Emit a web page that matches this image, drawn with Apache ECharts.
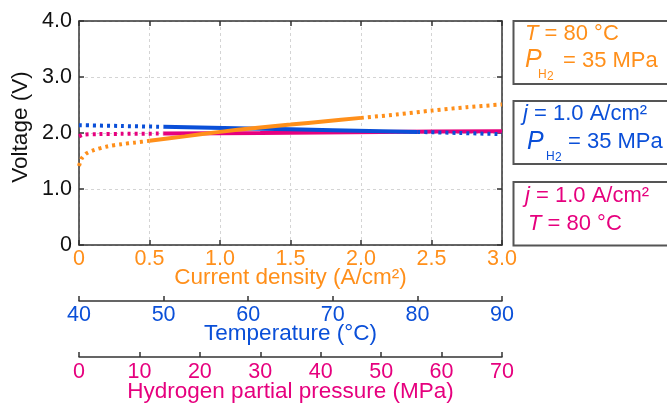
<!DOCTYPE html>
<html>
<head>
<meta charset="utf-8">
<script src="https://cdn.jsdelivr.net/npm/echarts@6/dist/echarts.min.js"></script>
<style>
  html, body { margin: 0; padding: 0; background: #fff; }
  #chart { width: 667px; height: 410px; }
</style>
</head>
<body>
<div id="chart"></div>
<script>
// Cell voltage vs. current density, temperature and hydrogen partial pressure
const ORANGE = '#FF8F1A';
const BLUE = '#0A4FD8';
const PINK = '#E6007E';
const FONT = '"Liberation Sans", Arial, sans-serif';

// Current density sweep (A/cm2) — T = 80 °C, P_H2 = 35 MPa
const jLow = [0, 0.02, 0.05, 0.1, 0.2, 0.3, 0.4, 0.5];
const vjLow = [1.41, 1.55, 1.63, 1.69, 1.76, 1.80, 1.83, 1.86];
const jMid = [0.5, 0.75, 1.0, 1.25, 1.5, 1.75, 2.0];
const vjMid = [1.86, 1.94, 2.02, 2.09, 2.15, 2.21, 2.27];
const jHigh = [2.0, 2.25, 2.5, 2.75, 3.0];
const vjHigh = [2.27, 2.33, 2.40, 2.46, 2.51];

// Temperature sweep (°C) — j = 1.0 A/cm2, P_H2 = 35 MPa
const tLow = [40, 45, 50];
const vtLow = [2.14, 2.125, 2.11];
const tMid = [50, 60, 70, 80];
const vtMid = [2.11, 2.08, 2.05, 2.02];
const tHigh = [80, 85, 90];
const vtHigh = [2.02, 2.00, 1.98];

// Hydrogen partial pressure sweep (MPa) — j = 1.0 A/cm2, T = 80 °C
const pLow = [0, 0.7, 3, 7, 14];
const vpLow = [1.94, 1.97, 1.98, 1.985, 1.99];
const pMid = [14, 30, 50, 70];
const vpMid = [1.99, 2.00, 2.02, 2.03];

// Axis ticks
const jTicks = { min: 0, max: 3, step: 0.5 };
const tTicks = { min: 40, max: 90, step: 10 };
const pTicks = { min: 0, max: 70, step: 10 };
const vTicks = { min: 0, max: 4, step: 1 };

const pairs = (xs, ys) => xs.map((x, i) => [x, ys[i]]);
const fmt1 = v => (v === 0 ? '0' : v.toFixed(1));

const AXIS_LINE = { show: true, onZero: false, lineStyle: { color: '#333', width: 1.5 } };
const TICK_IN = { show: true, inside: true, length: 5, lineStyle: { color: '#333', width: 1.5 } };
const GRID_LINE = { show: true, lineStyle: { color: '#d4d4d4', width: 1, type: [3, 3] } };

function bottomAxis(range, offset, color, name, formatter, split, gap, margin) {
  return {
    type: 'value', position: 'bottom', offset: offset,
    min: range.min, max: range.max, interval: range.step,
    axisLine: AXIS_LINE, axisTick: TICK_IN,
    axisLabel: { color: color, fontSize: 21.5, fontFamily: FONT, margin: margin,
                 formatter: formatter, showMinLabel: true, showMaxLabel: true, hideOverlap: false },
    splitLine: split ? GRID_LINE : { show: false },
    name: name, nameLocation: 'middle', nameGap: gap, nameMoveOverlap: false,
    nameTextStyle: { color: color, fontSize: 22.5, fontFamily: FONT }
  };
}

function lineSeries(axis, data, color, dotted, z) {
  return {
    type: 'line', xAxisIndex: axis, yAxisIndex: 0, data: data,
    showSymbol: false, smooth: 0.3, z: z, animation: false,
    lineStyle: dotted
      ? { color: color, width: 4, type: [3, 4], cap: 'butt' }
      : { color: color, width: 4, cap: 'butt' }
  };
}

function condText(x, y, letter, rest, color) {
  return {
    type: 'text', x: x, y: y,
    style: {
      text: '{i|' + letter + '}{n|' + rest + '}',
      verticalAlign: 'middle',
      rich: {
        i: { fontSize: 22, fontStyle: 'italic', fontFamily: FONT, fill: color },
        n: { fontSize: 22, fontFamily: FONT, fill: color }
      }
    }
  };
}

function pressureText(x, y, color, subX, restX) {
  return [
    { type: 'text', x: x, y: y, style: { text: 'P', fontSize: 25, fontStyle: 'italic', fontFamily: FONT, fill: color, verticalAlign: 'middle' } },
    { type: 'text', x: subX, y: y + 14.5, style: { text: 'H', fontSize: 12, fontFamily: FONT, fill: color, verticalAlign: 'middle' } },
    { type: 'text', x: subX + 9, y: y + 16, style: { text: '2', fontSize: 12, fontFamily: FONT, fill: color, verticalAlign: 'middle' } },
    { type: 'text', x: restX, y: y, style: { text: '= 35 MPa', fontSize: 22, fontFamily: FONT, fill: color, verticalAlign: 'middle' } }
  ];
}

function box(y, h) {
  return { type: 'rect', shape: { x: 513.5, y: y, width: 175, height: h },
           style: { fill: 'none', stroke: '#555', lineWidth: 2 } };
}

const chart = echarts.init(document.getElementById('chart'), null, { renderer: 'canvas' });
chart.setOption({
  backgroundColor: '#fff',
  animation: false,
  grid: { left: 79, right: 165, top: 21, bottom: 165, containLabel: false, outerBoundsMode: 'none' },
  xAxis: [
    bottomAxis(jTicks, 0, ORANGE, 'Current density (A/cm²)', fmt1, true, 21, 3),
    bottomAxis(tTicks, 56, BLUE, 'Temperature (°C)', v => String(v), false, 21, 3),
    bottomAxis(pTicks, 112, PINK, 'Hydrogen partial pressure (MPa)', v => String(v), false, 23.5, 4.5),
    {
      type: 'value', position: 'top', min: jTicks.min, max: jTicks.max, interval: jTicks.step,
      axisLine: AXIS_LINE, axisTick: TICK_IN, axisLabel: { show: false }, splitLine: { show: false }
    }
  ],
  yAxis: [
    {
      type: 'value', position: 'left', min: vTicks.min, max: vTicks.max, interval: vTicks.step,
      axisLine: AXIS_LINE, axisTick: TICK_IN,
      axisLabel: { color: '#111', fontSize: 21.5, fontFamily: FONT, margin: 7, formatter: fmt1 },
      splitLine: GRID_LINE,
      name: 'Voltage (V)', nameLocation: 'middle', nameGap: 47, nameMoveOverlap: false,
      nameTextStyle: { color: '#111', fontSize: 22.5, fontFamily: FONT, padding: [0, 0, 0, 12] }
    },
    {
      type: 'value', position: 'right', min: vTicks.min, max: vTicks.max, interval: vTicks.step,
      axisLine: AXIS_LINE, axisTick: TICK_IN, axisLabel: { show: false }, splitLine: { show: false }
    }
  ],
  series: [
    lineSeries(2, pairs(pLow, vpLow), PINK, true, 2),
    lineSeries(2, pairs(pMid, vpMid), PINK, false, 2),
    lineSeries(1, pairs(tLow, vtLow), BLUE, true, 3),
    lineSeries(1, pairs(tMid, vtMid), BLUE, false, 3),
    lineSeries(1, pairs(tHigh, vtHigh), BLUE, true, 3),
    lineSeries(0, pairs(jLow, vjLow), ORANGE, true, 4),
    lineSeries(0, pairs(jMid, vjMid), ORANGE, false, 4),
    lineSeries(0, pairs(jHigh, vjHigh), ORANGE, true, 4)
  ],
  graphic: [
    box(21, 63),
    condText(525, 34, 'T', ' = 80 °C', ORANGE),
    ...pressureText(525, 60.5, ORANGE, 538, 563),
    box(101, 63),
    condText(523, 114, 'j', ' = 1.0 A/cm²', BLUE),
    ...pressureText(527, 142, BLUE, 546, 568),
    box(182, 63.5),
    condText(525, 195.5, 'j', ' = 1.0 A/cm²', PINK),
    condText(528, 224, 'T', ' = 80 °C', PINK)
  ]
});
</script>
</body>
</html>
